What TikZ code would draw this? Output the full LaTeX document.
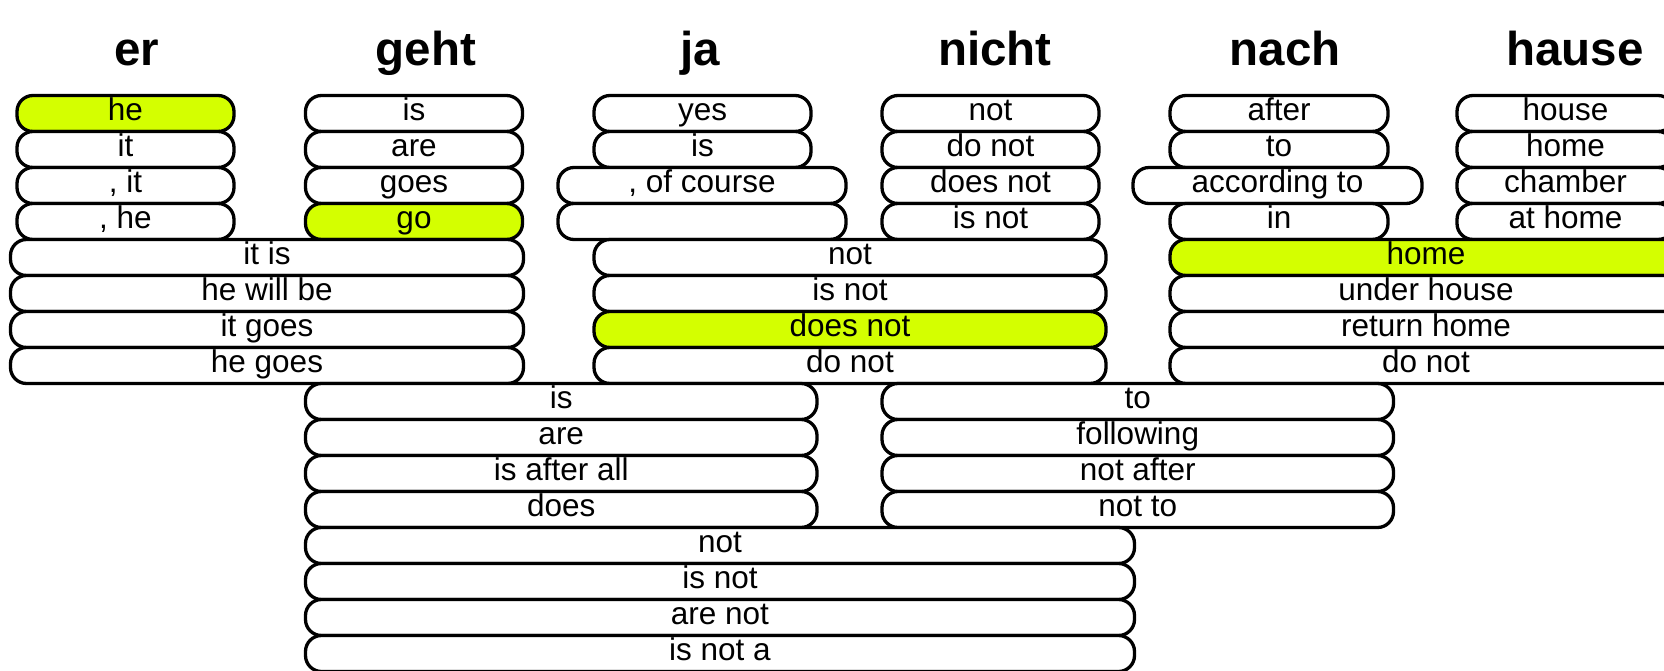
\documentclass[tikz,border=0pt]{standalone}
\usepackage{fontspec}
\setmainfont{Liberation Sans}
\definecolor{hl}{RGB}{212,255,0}
\tikzset{
  opt/.style={draw=black, line width=3.3pt, rounded corners=16pt, fill=white,
    minimum height=36pt, inner sep=0pt, outer sep=0pt, anchor=north west,
    text height=22pt, text depth=8pt, font=\fontsize{31.5}{36}\selectfont},
  sel/.style={opt, fill=hl},
  head/.style={anchor=base, inner sep=0pt, font=\fontsize{47.5}{50}\selectfont\bfseries}
}
\begin{document}
\begin{tikzpicture}[x=1pt,y=-1pt]
\useasboundingbox (0,0) rectangle (1664,670);
\clip (0,0) rectangle (1664,670);
% headers
\node[head] (h0) at (137,65) {er};
\node[head] (h1) at (426,65) {geht};
\node[head] (h2) at (700,65) {ja};
\node[head] (h3) at (995,65) {nicht};
\node[head] (h4) at (1285,65) {nach};
\node[head] (h5) at (1575,65) {hause};
% rows 0-3 : single words
% er
\node[sel, minimum width=217pt] (er0) at (17,95.5) {he};
\node[opt, minimum width=217pt] (er1) at (17,131.5) {it};
\node[opt, minimum width=217pt] (er2) at (17,167.5) {, it};
\node[opt, minimum width=217pt] (er3) at (17,203.5) {, he};
% geht
\node[opt, minimum width=217pt] (ge0) at (305.5,95.5) {is};
\node[opt, minimum width=217pt] (ge1) at (305.5,131.5) {are};
\node[opt, minimum width=217pt] (ge2) at (305.5,167.5) {goes};
\node[sel, minimum width=217pt] (ge3) at (305.5,203.5) {go};
% ja
\node[opt, minimum width=217pt] (ja0) at (594,95.5) {yes};
\node[opt, minimum width=217pt] (ja1) at (594,131.5) {is};
\node[opt, minimum width=288pt] (ja2) at (558,167.5) {, of course};
\node[opt, minimum width=288pt] (ja3) at (558,203.5) {};
% nicht
\node[opt, minimum width=217pt] (ni0) at (882,95.5) {not};
\node[opt, minimum width=217pt] (ni1) at (882,131.5) {do not};
\node[opt, minimum width=217pt] (ni2) at (882,167.5) {does not};
\node[opt, minimum width=217pt] (ni3) at (882,203.5) {is not};
% nach
\node[opt, minimum width=218pt] (na0) at (1170,95.5) {after};
\node[opt, minimum width=218pt] (na1) at (1170,131.5) {to};
\node[opt, minimum width=289pt] (na2) at (1133,167.5) {according to};
\node[opt, minimum width=218pt] (na3) at (1170,203.5) {in};
% hause
\node[opt, minimum width=217pt] (ha0) at (1457,95.5) {house};
\node[opt, minimum width=217pt] (ha1) at (1457,131.5) {home};
\node[opt, minimum width=217pt] (ha2) at (1457,167.5) {chamber};
\node[opt, minimum width=217pt] (ha3) at (1457,203.5) {at home};
% rows 4-7 : two-word spans
\node[opt, minimum width=513pt] (eg0) at (10.5,239.5) {it is};
\node[opt, minimum width=513pt] (eg1) at (10.5,275.5) {he will be};
\node[opt, minimum width=513pt] (eg2) at (10.5,311.5) {it goes};
\node[opt, minimum width=513pt] (eg3) at (10.5,347.5) {he goes};
\node[opt, minimum width=512pt] (jn0) at (594,239.5) {not};
\node[opt, minimum width=512pt] (jn1) at (594,275.5) {is not};
\node[sel, minimum width=512pt] (jn2) at (594,311.5) {does not};
\node[opt, minimum width=512pt] (jn3) at (594,347.5) {do not};
\node[sel, minimum width=512pt] (nh0) at (1170,239.5) {home};
\node[opt, minimum width=512pt] (nh1) at (1170,275.5) {under house};
\node[opt, minimum width=512pt] (nh2) at (1170,311.5) {return home};
\node[opt, minimum width=512pt] (nh3) at (1170,347.5) {do not};
% rows 8-11
\node[opt, minimum width=511.5pt] (gj0) at (305.5,383.5) {is};
\node[opt, minimum width=511.5pt] (gj1) at (305.5,419.5) {are};
\node[opt, minimum width=511.5pt] (gj2) at (305.5,455.5) {is after all};
\node[opt, minimum width=511.5pt] (gj3) at (305.5,491.5) {does};
\node[opt, minimum width=511.5pt] (nn0) at (882,383.5) {to};
\node[opt, minimum width=511.5pt] (nn1) at (882,419.5) {following};
\node[opt, minimum width=511.5pt] (nn2) at (882,455.5) {not after};
\node[opt, minimum width=511.5pt] (nn3) at (882,491.5) {not to};
% rows 12-15
\node[opt, minimum width=829pt] (gjn0) at (305.5,527.5) {not};
\node[opt, minimum width=829pt] (gjn1) at (305.5,563.5) {is not};
\node[opt, minimum width=829pt] (gjn2) at (305.5,599.5) {are not};
\node[opt, minimum width=829pt] (gjn3) at (305.5,635.5) {is not a};
\end{tikzpicture}
\end{document}
